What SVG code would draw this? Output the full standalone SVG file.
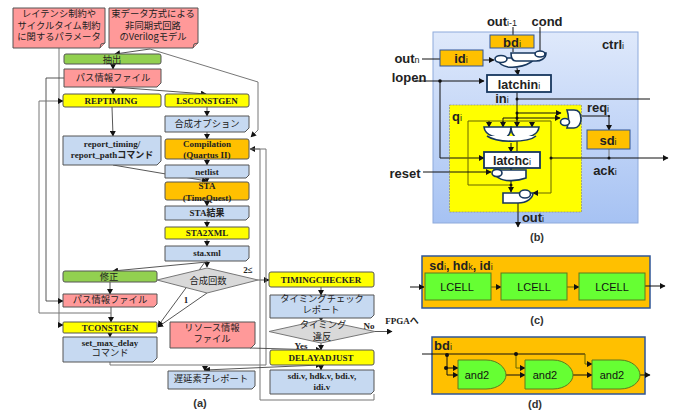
<svg xmlns="http://www.w3.org/2000/svg" width="674" height="414" viewBox="0 0 674 414">
<style>
text{font-family:"Liberation Serif","Noto Sans CJK JP",serif;fill:#111;text-anchor:middle}
.j{font-family:"Noto Sans CJK JP",sans-serif;font-size:9.3px;fill:#222}
.l{font-family:"Liberation Serif","Noto Sans CJK JP",serif;font-size:9px;font-weight:bold;fill:#222}
.s{font-family:"Liberation Sans",sans-serif;font-weight:bold;font-size:13px;fill:#222}
.sub{font-size:9px;font-weight:normal}
.c{font-family:"Liberation Sans",sans-serif;font-size:11px;fill:#111}
.cap{font-family:"Liberation Sans",sans-serif;font-weight:bold;font-size:11px;fill:#333}
.g{fill:#92d050;stroke:#555;stroke-width:1}
.y{fill:#ffff00;stroke:#555;stroke-width:1}
.o{fill:#ffc000;stroke:#555;stroke-width:1}
.p{fill:#ff9999;stroke:#555;stroke-width:1}
.b{fill:#c6d9f1;stroke:#555;stroke-width:1}
.d{fill:#d9d9d9;stroke:#777;stroke-width:1}
.ln{fill:none;stroke:#444;stroke-width:.9}
.gy{fill:none;stroke:#777;stroke-width:1}
.bk{fill:none;stroke:#111;stroke-width:1}
.ol{fill:none;stroke:#666600;stroke-width:1}
.a{marker-end:url(#m)}
.gt{fill:#fff;stroke:#17375e;stroke-width:1.6}
.gw{fill:#fff;stroke:#17375e;stroke-width:1.8}
.dot{fill:#111}
.cell{fill:#66ff33;stroke:#5c7a1f;stroke-width:1}
.pan{fill:#ffc000;stroke:#2f5597;stroke-width:1.5}
.bx{fill:#ffc000;stroke:#2f5597;stroke-width:1}
</style>
<defs>
<marker id="m" markerWidth="6" markerHeight="6" refX="5" refY="3" orient="auto" markerUnits="userSpaceOnUse"><path d="M0 0L5.5 3L0 6Z" fill="#111"/></marker>
<linearGradient id="pg" x1="0" y1="0" x2="0" y2="1"><stop offset="0" stop-color="#dfe9fb"/><stop offset="1" stop-color="#a6c2f3"/></linearGradient>
</defs>

<g id="connectors-a">
<path class="ln a" d="M150 49L115 54"/>
<path class="ln a" d="M113 64V69"/>
<path class="ln a" d="M113 87V94"/>
<path class="ln a" d="M113 87L206 94"/>
<path class="ln a" d="M207 107V116"/>
<path class="ln a" d="M207 132V139"/>
<path class="ln a" d="M207 159V165"/>
<path class="ln a" d="M207 178V182"/>
<path class="ln a" d="M207 200V206"/>
<path class="ln a" d="M207 220V227"/>
<path class="ln a" d="M207 239V246"/>
<path class="ln a" d="M112 107L113 136"/>
<path class="ln a" d="M113 165L207 181"/>
<path class="ln a" d="M207 261V267"/>
<path class="ln a" d="M207 262L113 271"/>
<path class="ln a" d="M205 262L158 326"/>
<path class="ln a" d="M207 293L158 327"/>
<path class="ln a" d="M258 280H269"/>
<path class="ln a" d="M110 282V294"/>
<path class="ln a" d="M111 307V322"/>
<path class="ln a" d="M110 333V337"/>
<path class="gy a" d="M150 49L258 82V130L251 137"/>
<path class="gy a" d="M59 48V325H63"/>
<path class="ln a" d="M64 78H46V301H63"/>
<path class="gy a" d="M111 313H39V101H63"/>
<path class="gy" d="M110 362V365H266V149"/>
<path class="gy a" d="M374 400H260V149H250"/>
<path class="gy" d="M374 394V400"/>
<path class="gy" d="M266 149H250"/>
<path class="ln a" d="M321 287V295"/>
<path class="ln a" d="M321 318V321"/>
<path class="ln a" d="M321 343V350"/>
<path class="ln a" d="M375 331.500H392"/>
<path class="ln a" d="M250 348L321 350"/>
<path class="ln a" d="M321 365V370"/>
<path class="ln a" d="M320 365L205 370"/>
<path class="ln a" d="M205 368L205 371"/>
<path class="ln a" d="M320 365L321 365"/>
</g>

<g id="n-latency"><path class="p" d="M13 8H105V43L100 48H13Z"/><path class="p" d="M100 48L101 44L105 43"/><text class="j" x="59" y="17">レイテンシ制約や</text><text class="j" x="59" y="29">サイクルタイム制約</text><text class="j" x="59" y="40">に関するパラメータ</text></g>
<g id="n-verilog"><path class="p" d="M109 8H198V43L193 48H109Z"/><path class="p" d="M193 48L194 44L198 43"/><text class="j" x="153" y="17">束データ方式による</text><text class="j" x="153" y="29">非同期式回路</text><text class="j" x="153" y="40">のVerilogモデル</text></g>
<g id="n-extract"><rect class="g" x="64" y="54" width="97" height="10" rx="2"/><text class="j" x="112" y="63">抽出</text></g>
<g id="n-path1"><path class="p" d="M64 69H161V83L157 87H64Z"/><text class="j" x="113" y="81">パス情報ファイル</text></g>
<g id="n-reptiming"><rect class="y" x="63" y="94" width="98" height="13" rx="2"/><text class="l" x="111" y="104">REPTIMING</text></g>
<g id="n-lsconstgen"><rect class="y" x="165" y="94" width="84" height="13" rx="2"/><text class="l" x="207" y="104">LSCONSTGEN</text></g>
<g id="n-option"><path class="b" d="M165 116H249V128L245 132H165Z"/><text class="j" x="207" y="127">合成オプション</text></g>
<g id="n-report"><path class="b" d="M63 136H161V161L157 165H63Z"/><text class="l" x="112" y="147">report_timing/</text><text class="l" x="112" y="158">report_pathコマンド</text></g>
<g id="n-compilation"><rect class="o" x="165" y="139" width="84" height="20" rx="2"/><text class="l" x="207" y="147">Compilation</text><text class="l" x="207" y="158">(Quartus II)</text></g>
<g id="n-netlist"><path class="b" d="M165 165H249V175L246 178H165Z"/><text class="l" x="207" y="175">netlist</text></g>
<g id="n-sta"><rect class="o" x="165" y="182" width="84" height="18" rx="2"/><text class="l" x="207" y="189">STA</text><text class="l" x="207" y="201">(TimeQuest)</text></g>
<g id="n-starep"><path class="b" d="M165 206H249V217L246 220H165Z"/><text class="l" x="207" y="216">STA結果</text></g>
<g id="n-sta2xml"><rect class="y" x="165" y="227" width="84" height="12" rx="1"/><text class="l" x="207" y="236">STA2XML</text></g>
<g id="n-staxml"><path class="b" d="M165 246H249V258L246 261H165Z"/><text class="l" x="207" y="256">sta.xml</text></g>
<g id="n-fix"><rect class="g" x="63" y="271" width="94" height="11" rx="2"/><text class="j" x="109" y="280">修正</text></g>
<g id="n-count"><path class="d" d="M157 280L207 268L258 280L207 293Z"/><text class="j" x="208" y="284">合成回数</text><text class="l" x="248" y="273">2≤</text><text class="l" x="186" y="303">1</text></g>
<g id="n-path2"><path class="p" d="M63 294H157V304L154 307H63Z"/><text class="j" x="110" y="303">パス情報ファイル</text></g>
<g id="n-tconstgen"><rect class="y" x="63" y="322" width="94" height="11" rx="1"/><text class="l" x="110" y="331">TCONSTGEN</text></g>
<g id="n-setmax"><path class="b" d="M63 337H157V358L153 362H63Z"/><text class="l" x="110" y="346">set_max_delay</text><text class="j" x="110" y="356">コマンド</text></g>
<g id="n-resource"><path class="p" d="M170 322H255V344L251 348H170Z"/><text class="j" x="212" y="331">リソース情報</text><text class="j" x="212" y="342">ファイル</text></g>
<g id="n-delayrep"><path class="b" d="M168 371H255V386L252 389H168Z"/><text class="j" x="211" y="382">遅延素子レポート</text></g>
<g id="n-checker"><rect class="y" x="269" y="272" width="105" height="15" rx="2"/><text class="l" x="321" y="283">TIMINGCHECKER</text></g>
<g id="n-checkrep"><path class="b" d="M270 295H374V315L371 318H270Z"/><text class="j" x="322" y="302">タイミングチェック</text><text class="j" x="321" y="313">レポート</text></g>
<g id="n-violate"><path class="d" d="M269 331.500L321 320L375 331.500L321 343Z"/><text class="j" x="323" y="328">タイミング</text><text class="j" x="322" y="340">違反</text><text class="l" x="369" y="329">No</text><text class="l" x="301" y="349">Yes</text><text class="l" x="402" y="324">FPGAへ</text></g>
<g id="n-delayadjust"><rect class="y" x="270" y="350" width="104" height="15" rx="2"/><text class="l" x="321" y="361">DELAYADJUST</text></g>
<g id="n-sdiv"><path class="b" d="M270 370H374V391L371 394H270Z"/><text class="l" x="322" y="379">sdi.v, hdk.v, bdi.v,</text><text class="l" x="322" y="390">idi.v</text></g>
<text class="cap" x="200" y="407">(a)</text>

<g id="ctrl">
<rect x="433" y="32" width="205" height="191" fill="url(#pg)" stroke="#8eaadb" stroke-width="1"/>
<rect x="449.500" y="105" width="132" height="107" fill="#ffff00" stroke="#888" stroke-width=".7" stroke-dasharray="2 1"/>
<text class="s" x="613" y="49">ctrl<tspan class="sub">i</tspan></text>
<text class="s" x="457" y="121">q<tspan class="sub">i</tspan></text>
</g>
<g id="connectors-b">
<path class="bk" d="M422 59H440"/><path class="bk a" d="M483 60H494"/>
<path class="bk" d="M513 27V52"/><path class="bk" d="M540 27V51"/>
<path class="bk a" d="M517 68L518 75"/>
<path class="bk a" d="M415 81H484"/>
<path class="bk a" d="M440 81V158H484"/>
<path class="bk" d="M517 92V152"/>
<path class="bk" d="M517 99H650"/>
<path class="bk a" d="M517 113H561"/>
<path class="bk a" d="M503 123V118H560"/>
<path class="bk a" d="M517 113V127"/>
<path class="bk a" d="M582 116H609V130"/>
<path class="ol" d="M468 185V121H551V193"/>
<path class="ol" d="M468 185H511"/>
<path class="bk a" d="M489 121V127"/><path class="bk a" d="M503 121V127"/><path class="bk a" d="M532 123V127"/>
<path class="bk a" d="M511 143V152"/>
<path class="bk a" d="M511 168V170"/>
<path class="bk a" d="M423 172H491"/>
<path class="bk a" d="M511 181V192"/>
<path class="bk a" d="M551 158H668"/>
<path class="gy" d="M609 149V158"/>
<path class="bk a" d="M518 203V227"/>
<path class="ol a" d="M551 193H533"/>
</g>
<g id="n-bd"><rect class="bx" x="490" y="35" width="44" height="13"/><text class="s" x="512" y="47">bd<tspan class="sub">i</tspan></text></g>
<g id="n-id"><rect class="bx" x="440" y="50" width="43" height="16"/><text class="s" x="461" y="63">id<tspan class="sub">i</tspan></text></g>
<g id="n-gate-in"><path class="gt" d="M496 58H535C530 66 515 68 508 67C502 66 498 62 496 58Z"/><path class="gt" d="M511 53H546C546 59 540 61 536 61H516C512 61 511 57 511 53Z"/><ellipse class="gt" cx="501" cy="59" rx="6" ry="3.500"/><ellipse class="gt" cx="540" cy="54" rx="5" ry="3"/></g>
<g id="n-latchin"><rect class="gw" x="487" y="75" width="64" height="17"/><text class="s" x="519" y="89" style="font-size:12.500px">latchin<tspan class="sub">i</tspan></text></g>
<g id="n-sd"><rect class="bx" x="587" y="130" width="43" height="19"/><text class="s" x="608" y="145">sd<tspan class="sub">i</tspan></text></g>
<g id="n-gate-req"><path class="gt" d="M567 110H574C579 110 581 114 581 119C581 124 578 128 574 128H567C569 122 569 116 567 110Z"/><ellipse class="gt" cx="565" cy="122" rx="4.500" ry="3.500"/></g>
<g id="n-gate-c"><path class="gt" d="M484 127H511C511 133 509 136 505 138C497 138 485 136 484 127Z"/><path class="gt" d="M511 127H539C538 136 526 138 517 138C513 136 511 133 511 127Z"/><path class="gt" d="M487 136C497 143 528 143 536 136" fill="none"/></g>
<g id="n-latchc"><rect class="gw" x="484" y="152" width="56" height="16"/><text class="s" x="512" y="165" style="font-size:12.500px">latchc<tspan class="sub">i</tspan></text></g>
<g id="n-gate-reset"><path class="gt" d="M494 170H526V178C518 181 504 182 499 178C495 176 494 173 494 170Z"/><ellipse class="gt" cx="497" cy="173" rx="5" ry="3.500"/></g>
<g id="n-gate-out"><path class="gt" d="M503 193H533C533 198 527 203 518 203H503Z"/><ellipse class="gt" cx="525" cy="194" rx="5.500" ry="4"/></g>
<g id="dots-b"><circle class="dot" cx="440" cy="81" r="1.800"/><circle class="dot" cx="517" cy="99" r="1.500"/><circle class="dot" cx="517" cy="113" r="1.500"/><circle class="dot" cx="517" cy="118" r="1.500"/><circle class="dot" cx="551" cy="158" r="1.500"/><circle class="dot" cx="609" cy="158" r="1.500"/><circle class="dot" cx="511" cy="185" r="1.500"/><circle class="dot" cx="609" cy="116" r="1"/></g>
<g id="labels-b">
<text class="s" x="502" y="26">out<tspan class="sub">i-1</tspan></text>
<text class="s" x="547" y="26">cond</text>
<text class="s" x="407" y="63">out<tspan class="sub">n</tspan></text>
<text class="s" x="409" y="82">lopen</text>
<text class="s" x="502" y="103">in<tspan class="sub">i</tspan></text>
<text class="s" x="598" y="112">req<tspan class="sub">i</tspan></text>
<text class="s" x="405" y="178">reset</text>
<text class="s" x="605" y="175">ack<tspan class="sub">i</tspan></text>
<text class="s" x="533" y="222">out<tspan class="sub">i</tspan></text>
<text class="cap" x="537" y="241">(b)</text>
</g>

<g id="n-c-panel"><rect class="pan" x="422" y="256" width="228" height="52"/><text class="s" x="461" y="270" style="font-size:12.500px">sd<tspan class="sub">i</tspan>, hd<tspan class="sub">k</tspan>, id<tspan class="sub">i</tspan></text></g>
<g id="connectors-c"><path class="bk a" d="M410 287H424"/><path class="ol a" d="M491 287H501"/><path class="ol a" d="M567 287H579"/><path class="bk a" d="M645 286H665"/></g>
<g id="n-lcell1"><rect class="cell" x="425" y="273" width="66" height="27"/><text class="c" x="457" y="291">LCELL</text></g>
<g id="n-lcell2"><rect class="cell" x="501" y="273" width="66" height="27"/><text class="c" x="534" y="291">LCELL</text></g>
<g id="n-lcell3"><rect class="cell" x="579" y="273" width="66" height="27"/><text class="c" x="612" y="291">LCELL</text></g>
<text class="cap" x="537" y="324">(c)</text>

<g id="n-d-panel"><rect class="pan" x="432" y="337" width="213" height="57"/><text class="s" x="443" y="350">bd<tspan class="sub">i</tspan></text></g>
<g id="connectors-d">
<path class="bk" d="M422 354H585"/>
<path class="ol a" d="M585 354V364H592"/>
<path class="ol a" d="M516 354V368H525"/>
<path class="bk a" d="M447 355V375H458"/>
<path class="bk a" d="M447 368H458"/>
<path class="bk a" d="M506 375H525"/>
<path class="bk a" d="M573 375H592"/>
<path class="bk a" d="M640 375H650"/>
</g>
<g id="n-and1"><path class="cell" d="M458 360H486C498 360 506 368 506 375C506 382 498 389 486 389H458Z"/><text class="c" x="477" y="379">and2</text></g>
<g id="n-and2"><path class="cell" d="M525 360H553C565 360 573 368 573 375C573 382 565 389 553 389H525Z"/><text class="c" x="545" y="379">and2</text></g>
<g id="n-and3"><path class="cell" d="M592 360H620C632 360 640 368 640 375C640 382 632 389 620 389H592Z"/><text class="c" x="612" y="379">and2</text></g>
<g id="dots-d"><circle class="dot" cx="447" cy="355" r="2"/><circle class="dot" cx="446" cy="368" r="2"/><circle class="dot" cx="516" cy="354" r="2"/></g>
<text class="cap" x="535" y="408">(d)</text>
</svg>
